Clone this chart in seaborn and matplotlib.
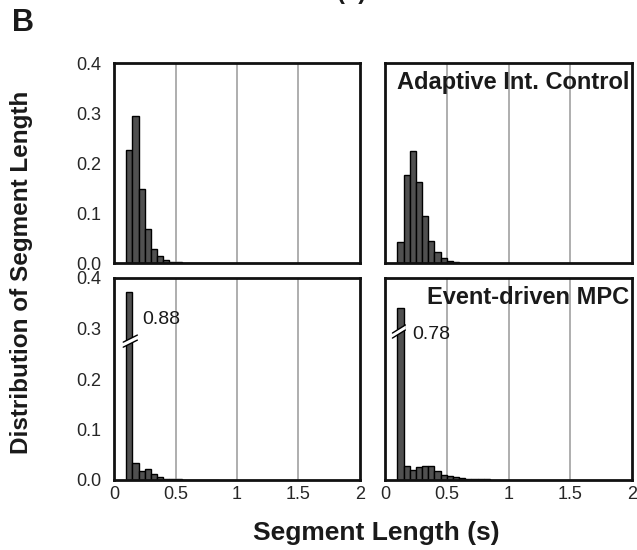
import numpy as np
import pandas as pd
import seaborn as sns
import matplotlib
matplotlib.use("Agg")
import matplotlib.pyplot as plt

# bin centres (s), 0.05 s wide bins starting at 0.1 s
centers = [0.125, 0.175, 0.225, 0.275, 0.325, 0.375, 0.425, 0.475, 0.525, 0.575,
           0.625, 0.675, 0.725, 0.775, 0.825]

# fraction of segments per bin
pi_vals = [0.227, 0.295, 0.149, 0.068, 0.029, 0.014, 0.006, 0.003, 0.002, 0.001,
           0.0, 0.0, 0.0, 0.0, 0.0]
aic_vals = [0.042, 0.177, 0.225, 0.163, 0.095, 0.044, 0.023, 0.011, 0.005, 0.003,
            0.001, 0.0, 0.0, 0.0, 0.0]
evpi_vals = [0.88, 0.033, 0.018, 0.021, 0.011, 0.005, 0.002, 0.001, 0.001, 0.0,
             0.0, 0.0, 0.0, 0.0, 0.0]
empc_vals = [0.78, 0.028, 0.020, 0.025, 0.027, 0.027, 0.017, 0.010, 0.007, 0.005,
             0.003, 0.002, 0.001, 0.001, 0.001]

# displayed (clipped) height of the broken first bar
evpi_cap = 0.372
empc_cap = 0.340

panel_titles = ["", "Adaptive Int. Control", "", "Event-driven MPC"]
xticks = [0, 0.5, 1, 1.5, 2]
xtick_labels = ["0", "0.5", "1", "1.5", "2"]
yticks = [0.0, 0.1, 0.2, 0.3, 0.4]
ytick_labels = ["0.0", "0.1", "0.2", "0.3", "0.4"]

sns.set_style("white")
plt.rcParams["font.family"] = ["Liberation Sans", "DejaVu Sans"]

fig = plt.figure(figsize=(6.37, 5.5), dpi=100)
W, H = 637.0, 550.0


def px_axes(x0, y0, x1, y1):
    return fig.add_axes([x0 / W, 1 - y1 / H, (x1 - x0) / W, (y1 - y0) / H])


axes = [
    px_axes(114, 63, 360, 263),
    px_axes(385, 63, 632, 263),
    px_axes(114, 278, 360, 480),
    px_axes(385, 278, 632, 480),
]

series = [pi_vals, aic_vals,
          [min(v, evpi_cap) for v in evpi_vals],
          [min(v, empc_cap) for v in empc_vals]]
edges = [round(c - 0.025, 3) for c in centers] + [round(centers[-1] + 0.025, 3)]

for i, (ax, vals) in enumerate(zip(axes, series)):
    df = pd.DataFrame({"len": centers, "w": vals})
    for g in [0.5, 1.0, 1.5]:
        ax.axvline(g, color="#a8a8a8", lw=1.3, zorder=0)
    sns.histplot(data=df, x="len", weights="w", bins=edges, ax=ax,
                 color="#505050", edgecolor="black", linewidth=1.0, alpha=1.0,
                 zorder=2)
    ax.set_xlim(0, 2)
    ax.set_ylim(0, 0.4)
    ax.set_xlabel("")
    ax.set_ylabel("")
    ax.set_xticks(xticks)
    ax.set_yticks(yticks)
    ax.tick_params(direction="in", length=3, width=1, labelsize=13, pad=9)
    ax.tick_params(axis="x", length=0, pad=4)
    if i % 2 == 0:
        ax.set_yticklabels(ytick_labels)
    else:
        ax.set_yticklabels([])
    if i >= 2:
        ax.set_xticklabels(xtick_labels)
    else:
        ax.set_xticklabels([])
    for s in ax.spines.values():
        s.set_linewidth(2.0)
        s.set_color("#111111")
    if panel_titles[i]:
        ax.text(1.975, 0.362, panel_titles[i], ha="right", va="center",
                fontsize=17, fontweight="bold", color="#1a1a1a")


def break_mark(ax, x0, x1, y0, y1):
    ax.fill([x0, x1, x1, x0], [y0 - 0.005, y1 - 0.005, y1 + 0.005, y0 + 0.005],
            color="white", zorder=3, lw=0)
    for d in (-0.005, 0.005):
        ax.plot([x0, x1], [y0 + d, y1 + d], color="black", lw=1.0, zorder=4)


break_mark(axes[2], 0.075, 0.19, 0.268, 0.282)
break_mark(axes[3], 0.06, 0.165, 0.286, 0.302)
axes[2].text(0.23, 0.318, "%.2f" % evpi_vals[0], fontsize=14, va="center",
             color="#1a1a1a")
axes[3].text(0.22, 0.289, "%.2f" % empc_vals[0], fontsize=14, va="center",
             color="#1a1a1a")

fig.text(22 / W, 1 - 272 / H, "Distribution of Segment Length", rotation=90,
         ha="center", va="center", fontsize=17.5, fontweight="bold",
         color="#1a1a1a")
fig.text(376 / W, 1 - 533 / H, "Segment Length (s)", ha="center", va="center",
         fontsize=19, fontweight="bold", color="#1a1a1a")
fig.text(12 / W, 1 - 23 / H, "B", ha="left", va="center", fontsize=22,
         fontweight="bold", color="#1a1a1a")
fig.text(352 / W, 1 + 7 / H, "(b)", ha="center", va="center", fontsize=17,
         fontweight="bold", color="#1a1a1a")

fig.savefig("out.png", dpi=100)
